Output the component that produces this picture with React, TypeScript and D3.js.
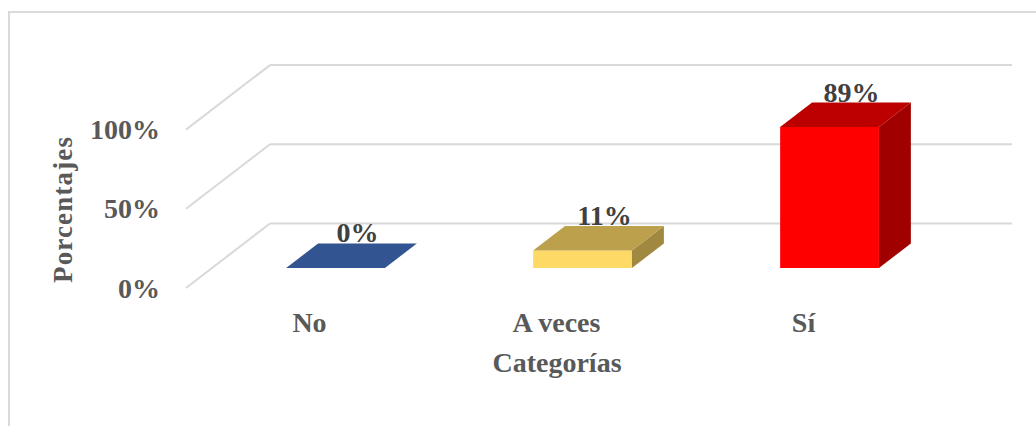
import React from "react";
import * as d3 from "d3";

const categories = ["No", "A veces", "Sí"];
const values = [0, 0.11, 0.89];
const dataLabels = ["0%", "11%", "89%"];
const baseColors = ["#4472C4", "#FFD966", "#FF0000"];
const yTicks = [0, 0.5, 1];
const yTickLabels = ["0%", "50%", "100%"];

const W = 1036;
const H = 426;
const FONT = "'Liberation Serif', 'Times New Roman', serif";

export default function App() {
  // front plane geometry
  const frontBase = 288;
  const frontLeft = 186;
  const plotW = 741;
  const depthX = 84;
  const depthY = -64.5;
  const d1 = 0.31;
  const d2 = 0.69;

  const x = d3.scaleBand<string>().domain(categories).range([frontLeft, frontLeft + plotW]).paddingInner(0.6).paddingOuter(0.3);
  const h = d3.scaleLinear().domain([0, 1]).range([0, 158.4]);

  const proj = (px: number, val: number, depth: number): [number, number] => [
    px + depth * depthX,
    frontBase - h(val) + depth * depthY,
  ];
  const poly = (pts: [number, number][]) => pts.map((p) => p.join(",")).join(" ");

  const grid = "#d9d9d9";

  return (
    <svg width={W} height={H} style={{ position: "absolute", left: 0, top: 0, background: "#fff" }}>
      <rect x={9} y={12} width={1200} height={600} fill="none" stroke={grid} strokeWidth={2} />
      {yTicks.map((t, i) => {
        const [bx, by] = proj(frontLeft, t, 1);
        const [fx, fy] = proj(frontLeft, t, 0);
        return (
          <g key={i}>
            <line x1={bx} y1={by} x2={1012} y2={by} stroke={grid} strokeWidth={2} />
            <line x1={fx} y1={fy} x2={bx} y2={by} stroke={grid} strokeWidth={2} />
            <text x={160} y={fy} dy="0.34em" textAnchor="end" fontFamily={FONT} fontWeight="bold" fontSize={28} fill="#595959">
              {yTickLabels[i]}
            </text>
          </g>
        );
      })}
      {categories.map((c, i) => {
        const x0 = x(c)!;
        const x1 = x0 + x.bandwidth();
        const v = values[i];
        const base = d3.color(baseColors[i])!;
        const top = base.darker(0.85).formatHex();
        const side = base.darker(1.3).formatHex();
        const fbl = proj(x0, 0, d1), fbr = proj(x1, 0, d1), ftl = proj(x0, v, d1), ftr = proj(x1, v, d1);
        const btl = proj(x0, v, d2), btr = proj(x1, v, d2), bbr = proj(x1, 0, d2);
        return (
          <g key={c}>
            {v > 0 && <polygon points={poly([fbl, fbr, ftr, ftl])} fill={baseColors[i]} />}
            {v > 0 && <polygon points={poly([fbr, bbr, btr, ftr])} fill={side} />}
            <polygon points={poly([ftl, ftr, btr, btl])} fill={top} />
            <text x={x0 + x.bandwidth() / 2 + 48} y={btl[1] - 1} textAnchor="middle" fontFamily={FONT} fontWeight="bold" fontSize={28} fill="#404040">
              {dataLabels[i]}
            </text>
            <text x={x0 + x.bandwidth() / 2} y={332} textAnchor="middle" fontFamily={FONT} fontWeight="bold" fontSize={28} fill="#595959">
              {c}
            </text>
          </g>
        );
      })}
      <text x={557} y={372} textAnchor="middle" fontFamily={FONT} fontWeight="bold" fontSize={28} fill="#595959">
        Categorías
      </text>
      <text transform="translate(72,210) rotate(-90)" textAnchor="middle" fontFamily={FONT} fontWeight="bold" fontSize={27} fill="#595959" textLength={146} lengthAdjust="spacing">
        Porcentajes
      </text>
    </svg>
  );
}
